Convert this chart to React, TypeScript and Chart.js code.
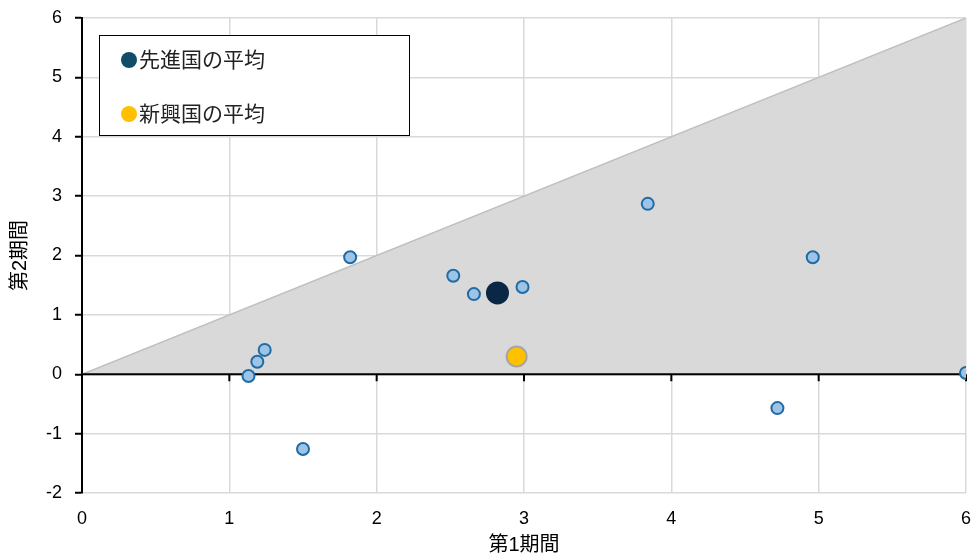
import React, { useEffect, useRef } from "react";
import { Chart, registerables } from "chart.js";

Chart.register(...registerables);

// Growth in period 1 (x) vs period 2 (y), one point per economy
const period1 = [1.13, 1.19, 1.24, 1.5, 1.82, 2.52, 2.66, 2.99, 3.84, 4.72, 4.96, 6.0];
const period2 = [-0.03, 0.21, 0.41, -1.26, 1.97, 1.66, 1.35, 1.47, 2.87, -0.57, 1.97, 0.02];

// Group averages
const advancedAvg = { x: 2.82, y: 1.37 };
const emergingAvg = { x: 2.95, y: 0.3 };

const legendLabels = ["先進国の平均", "新興国の平均"];
const xTitle = "第1期間";
const yTitle = "第2期間";

const FONT = "'Liberation Sans', 'Noto Sans CJK JP', Arial, sans-serif";

const zeroTicksPlugin = {
  id: "zeroTicks",
  beforeDatasetsDraw(chart: any) {
    const { ctx, scales } = chart;
    const x = scales.x;
    const y0 = scales.y.getPixelForValue(0);
    ctx.save();
    ctx.strokeStyle = "#000";
    ctx.lineWidth = 2;
    for (let v = 0; v <= 6; v++) {
      const px = x.getPixelForValue(v);
      ctx.beginPath();
      ctx.moveTo(px, y0);
      ctx.lineTo(px, y0 + 7);
      ctx.stroke();
    }
    ctx.restore();
  },
};

const boxLegendPlugin = {
  id: "boxLegend",
  afterDraw(chart: any) {
    const { ctx, chartArea } = chart;
    const left = chartArea.left + 17;
    const top = chartArea.top + 17;
    ctx.save();
    ctx.fillStyle = "#fff";
    ctx.fillRect(left, top, 310, 100);
    ctx.strokeStyle = "#000";
    ctx.lineWidth = 1;
    ctx.strokeRect(left + 0.5, top + 0.5, 310, 100);
    const colors = ["#0F4C68", "#FFC000"];
    const rows = [top + 25, top + 79];
    ctx.font = `21px ${FONT}`;
    ctx.textBaseline = "middle";
    ctx.textAlign = "left";
    legendLabels.forEach((label, i) => {
      ctx.fillStyle = colors[i];
      ctx.beginPath();
      ctx.arc(left + 30, rows[i], 8, 0, Math.PI * 2);
      ctx.fill();
      ctx.fillStyle = "#222";
      ctx.fillText(label, left + 40, rows[i] + 1);
    });
    ctx.restore();
  },
};

export default function App() {
  const ref = useRef<HTMLCanvasElement | null>(null);

  useEffect(() => {
    if (!ref.current) return;
    const chart = new Chart(ref.current, {
      type: "scatter",
      data: {
        datasets: [
          {
            label: legendLabels[0],
            data: [advancedAvg],
            pointRadius: 11.5,
            pointBackgroundColor: "#0A2846",
            pointBorderColor: "#0A2846",
            pointBorderWidth: 0,
          },
          {
            label: legendLabels[1],
            data: [emergingAvg],
            pointRadius: 10,
            pointBackgroundColor: "#FFC000",
            pointBorderColor: "#A6A6A6",
            pointBorderWidth: 2,
          },
          {
            label: "economies",
            data: period1.map((x, i) => ({ x, y: period2[i] })),
            pointRadius: 6,
            pointBackgroundColor: "#9DC3E6",
            pointBorderColor: "#1F6BA5",
            pointBorderWidth: 2,
          },
          {
            type: "line",
            label: "zero",
            data: [
              { x: 0, y: 0 },
              { x: 6, y: 0 },
            ],
            borderColor: "#000",
            borderWidth: 2,
            pointRadius: 0,
          },
          {
            type: "line",
            label: "area",
            data: [
              { x: 0, y: 0 },
              { x: 6, y: 6 },
            ],
            borderColor: "#BFBFBF",
            borderWidth: 1.5,
            backgroundColor: "#D9D9D9",
            fill: "origin",
            pointRadius: 0,
          },
        ] as any,
      },
      options: {
        animation: false,
        responsive: false,
        layout: { autoPadding: false, padding: { top: 18, right: 5, left: 0, bottom: 0 } },
        plugins: {
          legend: { display: false },
          tooltip: { enabled: false },
        },
        scales: {
          x: {
            type: "linear",
            min: 0,
            max: 6,
            afterFit: (s: any) => {
              s.height = 63;
              s.paddingLeft = 0;
              s.paddingRight = 0;
            },
            ticks: {
              stepSize: 1,
              padding: 15,
              color: "#000",
              font: { family: FONT, size: 18 },
            },
            grid: {
              color: "#D9D9D9",
              lineWidth: 1.5,
              drawTicks: false,
            },
            border: { display: false },
            title: {
              display: true,
              text: xTitle,
              color: "#000",
              font: { family: FONT, size: 20 },
              padding: { top: 0, bottom: -1 },
            },
          },
          y: {
            type: "linear",
            min: -2,
            max: 6,
            afterFit: (s: any) => {
              s.width = 82;
              s.paddingTop = 0;
              s.paddingBottom = 0;
            },
            ticks: {
              stepSize: 1,
              padding: 13,
              color: "#000",
              font: { family: FONT, size: 18 },
            },
            grid: {
              color: "#D9D9D9",
              lineWidth: 1.5,
              tickLength: 7,
              tickColor: "#000",
              tickWidth: 2,
            },
            border: { display: true, color: "#000", width: 2 },
            title: {
              display: true,
              text: yTitle,
              color: "#000",
              font: { family: FONT, size: 20 },
              padding: { top: 8, bottom: 0 },
            },
          },
        },
      } as any,
      plugins: [zeroTicksPlugin, boxLegendPlugin],
    });
    return () => chart.destroy();
  }, []);

  return (
    <div style={{ position: "fixed", left: 0, top: 0, width: 971, height: 556, background: "#fff" }}>
      <canvas ref={ref} width={971} height={556} />
    </div>
  );
}
